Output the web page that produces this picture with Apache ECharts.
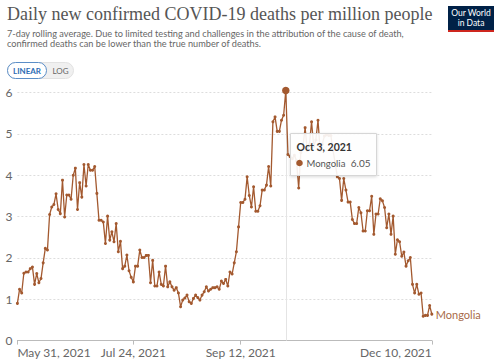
<!DOCTYPE html>
<html><head><meta charset="utf-8">
<script src="https://cdn.jsdelivr.net/npm/echarts@6/dist/echarts.min.js"></script>
<style>html,body{margin:0;padding:0;background:#fff}#c{width:500px;height:360px}</style>
</head><body><div id="c"></div>
<script>
// ---- data ----
const seriesName = 'Mongolia';
const startYear = 2021, startMonth = 4, startDay = 31; // May 31, 2021
const values = [
0.90,1.24,1.15,1.63,1.66,1.66,1.74,1.78,1.36,1.62,
1.40,1.50,1.88,2.23,2.19,3.05,3.23,3.29,3.55,3.17,
3.07,3.88,2.99,3.52,3.52,3.42,4.00,4.17,3.17,3.82,
3.47,4.26,3.74,4.26,4.12,4.12,4.21,3.56,2.91,2.91,
2.87,2.35,3.01,2.43,2.63,2.39,2.83,2.15,2.40,1.74,
1.80,2.07,1.69,1.53,1.42,1.80,1.80,2.19,2.01,2.01,
2.06,2.06,1.40,1.94,1.32,1.32,1.66,1.36,1.32,1.80,
1.30,1.42,1.30,1.22,1.28,1.15,0.82,0.98,1.03,1.10,
0.94,0.90,1.02,1.10,1.04,0.98,1.10,1.18,1.30,1.20,
1.24,1.28,1.28,1.30,1.24,1.44,1.38,1.48,1.32,1.66,
1.61,1.88,2.15,2.75,3.34,3.34,3.42,3.96,3.51,3.23,
3.72,3.13,3.13,3.26,3.64,3.64,3.76,4.21,3.74,5.29,
5.41,5.06,5.06,5.33,5.45,6.05,4.50,4.45,4.40,4.48,
4.35,3.69,4.55,4.70,5.15,4.60,4.75,5.29,4.70,4.85,
5.33,4.60,4.75,4.95,4.98,4.96,4.96,4.60,4.30,3.96,
3.92,3.39,3.92,3.64,3.35,3.35,2.93,2.83,2.83,3.22,
3.09,2.65,2.65,3.14,3.14,3.49,2.57,3.06,3.06,3.43,
3.38,3.22,2.73,3.06,2.57,3.01,2.09,2.44,2.39,2.04,
2.14,1.80,1.93,2.01,1.36,1.15,1.36,1.12,1.15,0.59,
0.61,0.61,0.85,0.64
];
const tickLabels = ['May 31, 2021', 'Jul 24, 2021', 'Sep 12, 2021', 'Dec 10, 2021'];
const yTicks = [0, 1, 2, 3, 4, 5, 6];
const highlightDate = 'Oct 3, 2021';
const titleText = 'Daily new confirmed COVID-19 deaths per million people';
const subtitleLines = [
  '7-day rolling average. Due to limited testing and challenges in the attribution of the cause of death,',
  'confirmed deaths can be lower than the true number of deaths.'
];

// ---- build ----
const MONTHS = ['Jan','Feb','Mar','Apr','May','Jun','Jul','Aug','Sep','Oct','Nov','Dec'];
const categories = values.map((v, i) => {
  const d = new Date(Date.UTC(startYear, startMonth, startDay + i));
  return MONTHS[d.getUTCMonth()] + ' ' + d.getUTCDate() + ', ' + d.getUTCFullYear();
});
const highlightIndex = categories.indexOf(highlightDate);
const lineColor = '#a3592f';
const FONT = 'Lato';
const TZ = 100;

const chart = echarts.init(document.getElementById('c'), null, {renderer: 'svg'});
const showTick = (idx) => tickLabels.includes(categories[idx]);

chart.setOption({
  animation: false,
  backgroundColor: '#fff',
  title: [
    {text: titleText, left: 7, top: 2, padding: 0,
     textStyle: {fontFamily: 'Liberation Serif', fontSize: 18, fontWeight: 'normal', color: '#555', lineHeight: 24}},
    {text: subtitleLines.join('\n'), left: 7, top: 28, padding: 0,
     textStyle: {fontFamily: FONT, fontSize: 9.2, fontWeight: 'normal', color: '#666', lineHeight: 10.5}}
  ],
  grid: {left: 17.4, right: 68.2, top: 92.5, bottom: 19.4, containLabel: false, outerBoundsMode: 'none'},
  xAxis: {
    type: 'category',
    data: categories,
    boundaryGap: false,
    axisLine: {lineStyle: {color: '#bbb', width: 1}},
    axisTick: {show: true, interval: showTick, length: 4, lineStyle: {color: '#bbb'}},
    axisLabel: {interval: showTick, color: '#666', fontFamily: FONT, fontSize: 12, margin: 6,
      alignMinLabel: 'left', alignMaxLabel: 'right'},
    splitLine: {show: false}
  },
  yAxis: {
    type: 'value', min: yTicks[0], max: yTicks[yTicks.length - 1], interval: 1,
    axisLine: {show: false}, axisTick: {show: false},
    axisLabel: {color: '#666', fontFamily: FONT, fontSize: 12, margin: 5},
    splitLine: {lineStyle: {color: '#ddd', type: [2, 2], width: 1}}
  },
  series: [{
    name: seriesName,
    type: 'line',
    clip: false,
    data: values.map((v, i) => i === highlightIndex ? {value: v, symbolSize: 7.5} : v),
    symbol: 'circle',
    symbolSize: 3,
    showAllSymbol: true,
    itemStyle: {color: lineColor},
    lineStyle: {color: lineColor, width: 1.3},
    emphasis: {disabled: true},
    endLabel: {show: true, formatter: '{a}', color: '#a86a48', fontFamily: FONT, fontSize: 11, distance: 4},
    markLine: {
      silent: true, symbol: 'none', z: 1,
      label: {show: false},
      lineStyle: {color: '#e4e4e4', width: 1, type: 'solid'},
      data: [{xAxis: highlightDate}]
    }
  }],
  graphic: [
    {type: 'group', left: 448, top: 6, children: [
      {type: 'rect', shape: {x: 0, y: 0, width: 46, height: 26}, style: {fill: '#002147'}},
      {type: 'rect', shape: {x: 0, y: 24, width: 46, height: 2}, style: {fill: '#ce261e'}},
      {type: 'text', x: 23, y: 12, style: {text: 'Our World\nin Data', fill: '#fff', fontFamily: FONT, fontSize: 8.5, lineHeight: 9.5, align: 'center', verticalAlign: 'middle'}}
    ]},
    {type: 'group', left: 7, top: 62, children: [
      {type: 'rect', shape: {x: 0, y: 0, width: 66, height: 16, r: 8}, style: {fill: '#f0f0f0', stroke: '#e2e2e2', lineWidth: 1}},
      {type: 'rect', shape: {x: 0, y: 0, width: 39, height: 16, r: 8}, style: {fill: '#fff', stroke: '#5b8ec7', lineWidth: 1}},
      {type: 'text', x: 19.5, y: 8, style: {text: 'LINEAR', fill: '#2e6db4', fontFamily: FONT, fontSize: 8, fontWeight: 'bold', align: 'center', verticalAlign: 'middle'}},
      {type: 'text', x: 53, y: 8, style: {text: 'LOG', fill: '#666', fontFamily: FONT, fontSize: 8, align: 'center', verticalAlign: 'middle'}}
    ]},
    // hover tooltip box for the highlighted point
    {type: 'group', left: 290, top: 133, z: TZ, children: [
      {type: 'rect', z: TZ, shape: {x: 0, y: 0, width: 86, height: 42},
       style: {fill: 'rgba(255,255,255,0.9)', stroke: '#d6d6d6', lineWidth: 1, shadowBlur: 3, shadowColor: 'rgba(0,0,0,0.15)', shadowOffsetY: 1}},
      {type: 'text', z: TZ + 1, x: 6, y: 13.5, style: {text: categories[highlightIndex], fill: '#333', fontFamily: FONT, fontSize: 10.5, fontWeight: 'bold', verticalAlign: 'middle'}},
      {type: 'circle', z: TZ + 1, shape: {cx: 9, cy: 29.5, r: 3.3}, style: {fill: lineColor}},
      {type: 'text', z: TZ + 1, x: 16, y: 29.5, style: {text: seriesName, fill: '#555', fontFamily: FONT, fontSize: 9.5, verticalAlign: 'middle'}},
      {type: 'text', z: TZ + 1, x: 80, y: 29.5, style: {text: values[highlightIndex].toFixed(2), fill: '#555', fontFamily: FONT, fontSize: 10, align: 'right', verticalAlign: 'middle'}}
    ]}
  ]
});
</script></body></html>
